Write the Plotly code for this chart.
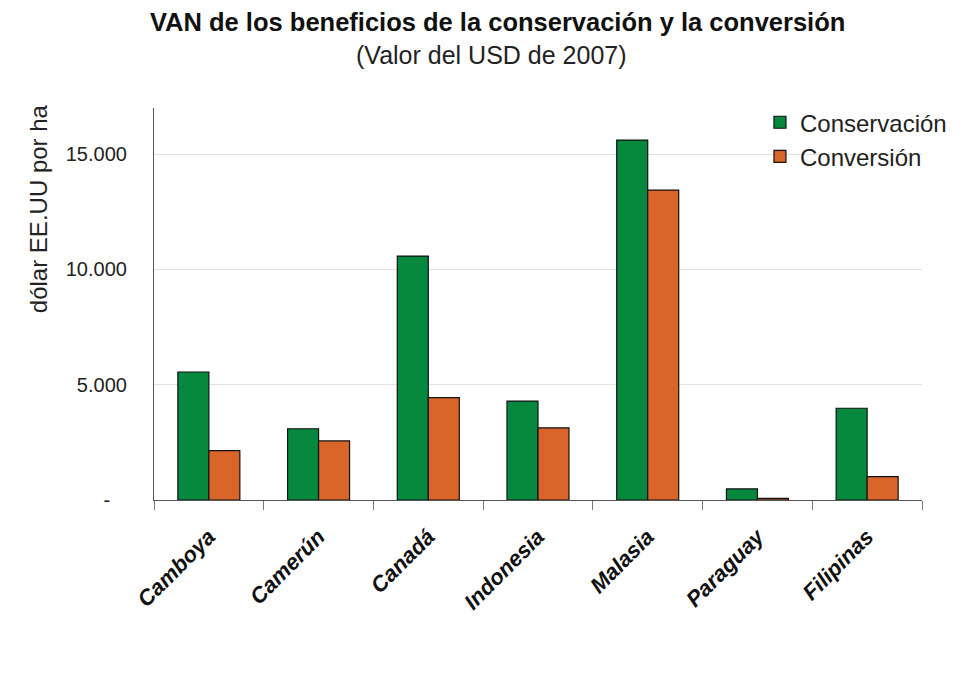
import plotly.graph_objects as go

# Net present value of benefits per hectare (2007 USD)
countries = ["Camboya", "Camerún", "Canadá", "Indonesia", "Malasia", "Paraguay", "Filipinas"]
conservacion = [5550, 3090, 10580, 4290, 15610, 480, 3980]
conversion = [2140, 2560, 4440, 3130, 13440, 70, 1010]

y_tick_vals = [0, 5000, 10000, 15000]
y_tick_text = ["-\u00a0\u00a0\u00a0", "5.000", "10.000", "15.000"]

GREEN = "#06883f"
ORANGE = "#d9652a"
FONT = "Liberation Sans, Arial, Helvetica, sans-serif"
TEXT = "#222222"

fig = go.Figure()
fig.add_trace(go.Bar(
    name="Conservación", x=countries, y=conservacion,
    marker=dict(color=GREEN, line=dict(color="#111111", width=1.2)),
))
fig.add_trace(go.Bar(
    name="Conversión", x=countries, y=conversion,
    marker=dict(color=ORANGE, line=dict(color="#111111", width=1.2)),
))

fig.update_layout(
    width=959, height=676,
    margin=dict(l=154, r=37, t=108, b=176, autoexpand=False),
    paper_bgcolor="white", plot_bgcolor="white",
    barmode="group", bargap=0.435, bargroupgap=0,
    font=dict(family=FONT, color=TEXT),
    showlegend=True,
    legend=dict(
        x=0.789, y=1.02, xanchor="left", yanchor="top",
        font=dict(size=24, color=TEXT, family=FONT),
        bgcolor="rgba(0,0,0,0)",
        itemwidth=30,
    ),
    xaxis=dict(
        showline=True, linecolor="#555555", linewidth=1.2,
        ticks="outside", ticklen=9, tickcolor="#777777", tickwidth=1,
        tickson="boundaries", tickangle=-45, ticklabelstandoff=14,
        tickfont=dict(size=22, color="#111111", family=FONT, weight="bold", style="italic"),
        showgrid=False,
    ),
    yaxis=dict(
        range=[0, 17000],
        tickvals=y_tick_vals, ticktext=y_tick_text,
        tickfont=dict(size=20, color=TEXT, family=FONT),
        showline=True, linecolor="#555555", linewidth=1.2,
        ticks="", ticklabelstandoff=22,
        showgrid=True, gridcolor="#e2e2e2", gridwidth=1.2,
        zeroline=False,
    ),
    annotations=[
        dict(text="<b>VAN de los beneficios de la conservación y la conversión</b>",
             xref="paper", yref="paper", x=0.447, y=1.219,
             xanchor="center", yanchor="middle", showarrow=False,
             font=dict(size=25.5, color="#111111", family=FONT)),
        dict(text="(Valor del USD de 2007)",
             xref="paper", yref="paper", x=0.439, y=1.135,
             xanchor="center", yanchor="middle", showarrow=False,
             font=dict(size=25, color=TEXT, family=FONT)),
        dict(text="dólar EE.UU por ha",
             xref="paper", yref="paper", x=-0.151, y=0.742,
             xanchor="center", yanchor="middle", showarrow=False, textangle=-90,
             font=dict(size=24, color=TEXT, family=FONT)),
    ],
)

fig.write_html("out.html")
